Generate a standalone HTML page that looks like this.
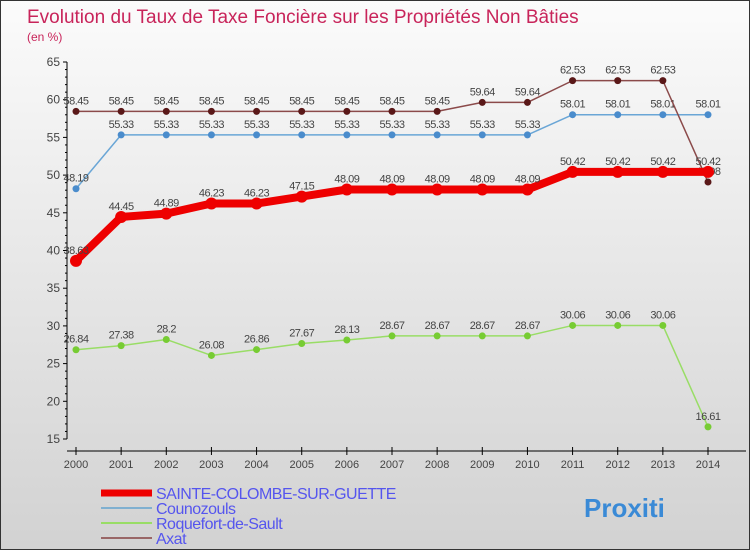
<!DOCTYPE html>
<html><head><meta charset="utf-8"><style>
body{margin:0}
#c{width:750px;height:550px;position:relative;box-sizing:border-box;border:1px solid #333;background:linear-gradient(#fbfbfb,#d2d2d2);font-family:"Liberation Sans",sans-serif;overflow:hidden}
</style></head><body>
<div id="c">
<svg id="s" width="750" height="550" style="position:absolute;left:0;top:0">
<text x="26" y="22" font-size="19" fill="#c8245a">Evolution du Taux de Taxe Foncière sur les Propriétés Non Bâties</text>
<text x="26" y="40" font-size="12" fill="#c8245a">(en %)</text>
</svg>
</div>
<script>
const years=[2000,2001,2002,2003,2004,2005,2006,2007,2008,2009,2010,2011,2012,2013,2014];
const yTicks=[15,20,25,30,35,40,45,50,55,60,65];
const sainte=[38.63,44.45,44.89,46.23,46.23,47.15,48.09,48.09,48.09,48.09,48.09,50.42,50.42,50.42,50.42];
const counozouls=[48.19,55.33,55.33,55.33,55.33,55.33,55.33,55.33,55.33,55.33,55.33,58.01,58.01,58.01,58.01];
const roquefort=[26.84,27.38,28.2,26.08,26.86,27.67,28.13,28.67,28.67,28.67,28.67,30.06,30.06,30.06,16.61];
const axat=[58.45,58.45,58.45,58.45,58.45,58.45,58.45,58.45,58.45,59.64,59.64,62.53,62.53,62.53,49.08];
const names=["SAINTE-COLOMBE-SUR-GUETTE","Counozouls","Roquefort-de-Sault","Axat"];
const NS="http://www.w3.org/2000/svg",s=document.getElementById('s');
const X=i=>75+i*(707-75)/(years.length-1);
const Y=v=>438-(v-15)*(438-61)/50;
function mk(t,a,p){const e=document.createElementNS(NS,t);for(const k in a)e.setAttribute(k,a[k]);(p||s).appendChild(e);return e;}
// axes
let ax=mk('line',{x1:66,y1:61,x2:66,y2:438,stroke:'#000'});


let xa=mk('line',{x1:66,y1:450,x2:745,y2:450,stroke:'#000'});


yTicks.forEach(v=>{mk('line',{x1:62,x2:66,y1:Y(v),y2:Y(v),stroke:'#000'});
const t=mk('text',{x:59,y:Y(v)+4,'font-size':12,fill:'#444','text-anchor':'end'});t.textContent=v;

});
for(let v=16;v<65;v++) if(v%5) mk('line',{x1:64,x2:66,y1:Y(v),y2:Y(v),stroke:'#000'});
years.forEach((y,i)=>{mk('line',{x1:X(i),x2:X(i),y1:446,y2:454,stroke:'#000'});
const t=mk('text',{x:X(i),y:467,'font-size':11,fill:'#444','text-anchor':'middle'});t.textContent=y;

});
function series(d,color,w,dot,dr,name,lab){
const g=mk('g',{});


mk('polyline',{points:d.map((v,i)=>X(i)+','+Y(v)).join(' '),fill:'none',stroke:color,'stroke-width':w,'stroke-linejoin':'round'},g);
d.forEach((v,i)=>{const c=mk('circle',{cx:X(i),cy:Y(v),r:dr,fill:dot},g);


const t=mk('text',{x:X(i),y:Y(v)-7,'font-size':11,fill:'#444','text-anchor':'middle','letter-spacing':'-0.5'},g);t.textContent=v;

});
}
series(roquefort,'#99dd66',1.5,'#77cc33',3.5,'roquefort-series');
series(counozouls,'#6aa6d6',1.5,'#4a8ccc',3.5,'counozouls-series');
series(axat,'#8b4a4a',1.5,'#5a1818',3.5,'axat-series');
series(sainte,'#ee0000',8,'#ee0000',6,'sainte-series');
const lc=['#ee0000','#80b0d0','#99dd66','#996666'],lw=[7,2,2,2];
names.forEach((n,i)=>{const yy=492+i*15;
mk('line',{x1:100,x2:151,y1:yy,y2:yy,stroke:lc[i],'stroke-width':lw[i]});
const t=mk('text',{x:155,y:yy+6,'font-size':16,fill:'#5555ee','letter-spacing':'-0.5'});t.textContent=n;

});
const p=mk('text',{x:583,y:516,'font-size':26,'font-weight':'bold',fill:'#3a8ad6'});p.textContent='Proxiti';


</script>
</body></html>
